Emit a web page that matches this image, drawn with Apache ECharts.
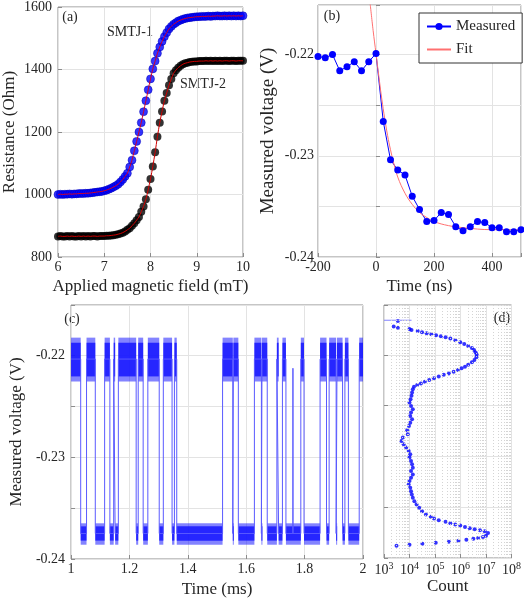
<!DOCTYPE html>
<html><head><meta charset="utf-8">
<script src="https://cdn.jsdelivr.net/npm/echarts@6/dist/echarts.min.js"></script>
<style>html,body{margin:0;padding:0;background:#fff}#c{width:524px;height:600px}</style>
</head><body><div id="c"></div>
<script>
// ---------- Panel (a): resistance vs field ----------
const fieldA = [6.00,6.05,6.10,6.15,6.20,6.25,6.30,6.35,6.40,6.45,6.50,6.55,6.60,6.65,6.70,6.75,6.80,6.85,6.90,6.95,
  7.00,7.05,7.10,7.15,7.20,7.25,7.30,7.35,7.40,7.45,7.50,7.55,7.60,7.65,7.70,7.75,7.80,7.85,7.90,7.95,
  8.00,8.05,8.10,8.15,8.20,8.25,8.30,8.35,8.40,8.45,8.50,8.55,8.60,8.65,8.70,8.75,8.80,8.85,8.90,8.95,
  9.00,9.05,9.10,9.15,9.20,9.25,9.30,9.35,9.40,9.45,9.50,9.55,9.60,9.65,9.70,9.75,9.80,9.85,9.90,9.95,10.00];
const resSMTJ1 = [1000,1001,1000,1001,1001,1002,1001,1002,1002,1003,1003,1003,1004,1004,1005,1006,1007,1008,1009,1010,
  1012,1014,1017,1020,1024,1028,1033,1040,1048,1058,1068,1088,1110,1140,1170,1200,1230,1265,1300,1335,
  1370,1402,1427,1452,1472,1490,1505,1518,1530,1538,1545,1550,1555,1558,1561,1563,1565,1566,1567,1568,
  1569,1569,1570,1570,1570,1571,1570,1571,1571,1572,1571,1571,1572,1571,1572,1571,1572,1571,1572,1571,1572];
const resSMTJ2 = [866,867,866,866,867,866,867,866,866,867,866,867,866,867,866,867,867,866,867,867,
  867,868,868,869,870,871,873,875,878,882,887,892,900,908,918,928,945,962,985,1015,
  1050,1090,1135,1185,1230,1266,1300,1325,1350,1370,1388,1398,1406,1412,1417,1420,1422,1424,1425,1426,
  1426,1427,1427,1427,1428,1427,1428,1427,1428,1427,1428,1427,1428,1428,1427,1428,1428,1427,1428,1428,1428];

// ---------- Panel (b): transient ----------
const timeB = [-200,-175,-150,-125,-100,-75,-50,-25,0,25,50,75,100,125,150,175,200,225,250,275,300,325,350,375,400,425,450,475,500];
const voltB = [-0.2202,-0.2203,-0.2200,-0.2216,-0.2212,-0.2207,-0.2216,-0.2207,-0.2199,-0.2266,-0.2304,-0.2314,-0.2319,-0.2340,-0.2353,
  -0.2365,-0.2364,-0.2356,-0.2358,-0.2370,-0.2374,-0.2370,-0.2365,-0.2366,-0.2371,-0.2371,-0.2375,-0.2375,-0.2373];
const fitT = [-20,-10,0,10,20,30,40,50,60,75,100,125,150,175,200,250,300,400,500];
const fitV = [-0.2150,-0.2176,-0.2199,-0.2222,-0.2244,-0.2263,-0.2280,-0.2294,-0.2306,-0.2321,-0.2337,-0.2348,-0.2356,-0.2361,-0.2365,-0.2369,-0.2371,-0.2373,-0.2373];

// ---------- Panel (c): telegraph signal (switch times in ms, state 1 = high, 0 = low) ----------
const switchC = [1.000,1.033,1.053,1.083,1.115,1.133,1.146,1.151,1.162,1.223,1.230,1.247,1.263,1.302,1.316,1.346,1.354,1.362,
  1.519,1.554,1.556,1.573,1.628,1.652,1.654,1.672,1.705,1.711,1.724,1.736,1.787,1.798,1.853,1.875,1.884,1.908,1.911,1.930,1.938,1.950,1.987,2.000];
const stateC = [1,0,1,0,1,0,1,0,1,0,1,0,1,0,1,0,1,0,1,0,1,0,1,0,1,0,1,0,1,0,1,0,1,0,1,0,1,0,1,0,1];
const levelC = [-0.2375, -0.2204];               // low, high mean level
const bandHigh = [-0.2221, -0.2188], fringeHigh = [-0.2226, -0.2183];
const bandLow  = [-0.2382, -0.2368], fringeLow  = [-0.2386, -0.2365];
const spikeT = [1.760], spikeV = [-0.2213];

// ---------- Panel (d): histogram ----------
const histV = [-0.21668,-0.21722,-0.21735,-0.21745,-0.21755,-0.21767,-0.21777,-0.21787,-0.21797,-0.21807,-0.21817,-0.21827,-0.21840,-0.21857,-0.21876,
  -0.21893,-0.21913,-0.21933,-0.21952,-0.21975,-0.21998,-0.22024,-0.22051,-0.22074,-0.22097,-0.22117,-0.22133,-0.22150,-0.22166,-0.22183,
  -0.22196,-0.22213,-0.22230,-0.22249,-0.22265,-0.22282,-0.22298,-0.22315,-0.22338,-0.22371,-0.22404,-0.22437,-0.22470,-0.22503,-0.22536,
  -0.22569,-0.22602,-0.22635,-0.22668,-0.22700,-0.22743,-0.22782,-0.22814,-0.22848,-0.22880,-0.22913,-0.22947,-0.22979,-0.23012,-0.23045,
  -0.23078,-0.23111,-0.23144,-0.23177,-0.23210,-0.23243,-0.23276,-0.23308,-0.23342,-0.23375,-0.23407,-0.23441,-0.23473,-0.23506,-0.23540,
  -0.23572,-0.23595,-0.23612,-0.23628,-0.23644,-0.23658,-0.23671,-0.23681,-0.23694,-0.23708,-0.23717,-0.23727,-0.23737,-0.23753,-0.23780,
  -0.23793,-0.23803,-0.23810,-0.23820,-0.23830,-0.23840,-0.23850,-0.23859,-0.23869,-0.23879];
const histCount = [3.5e3,2.4e3,3.5e3,1.0e4,1.2e4,2.1e4,3.1e4,4.7e4,7.2e4,1.1e5,1.7e5,2.6e5,4.0e5,6.3e5,9.8e5,
  1.4e6,2.0e6,2.8e6,3.4e6,3.9e6,4.3e6,4.2e6,3.5e6,2.8e6,2.0e6,1.5e6,1.1e6,7.9e5,5.4e5,3.5e5,
  2.2e5,1.4e5,9.1e4,5.9e4,4.0e4,2.8e4,2.0e4,1.5e4,1.35e4,1.26e4,1.2e4,1.1e4,1.0e4,1.15e4,1.35e4,
  1.15e4,1.07e4,1.26e4,1.07e4,9.5e3,8.1e3,8.5e3,5.5e3,4.8e3,5.9e3,7.4e3,9.3e3,1.07e4,1.0e4,1.15e4,
  1.26e4,1.35e4,1.15e4,1.35e4,1.15e4,1.0e4,9.3e3,1.07e4,1.15e4,1.23e4,1.35e4,1.55e4,1.9e4,2.4e4,3.1e4,
  4.4e4,6.8e4,9.1e4,1.4e5,2.6e5,4.0e5,6.2e5,9.8e5,1.5e6,2.3e6,3.6e6,5.8e6,8.9e6,1.2e7,1.0e7,
  7.6e6,4.9e6,3.2e6,1.7e6,8.3e5,3.5e5,1.07e5,3.2e4,1.0e4,3.1e3];
const edgeLineCount = [1.0e3, 1.2e4], edgeLineV = -0.2166;

// ---------- styling ----------
const FONT = 'Liberation Serif';
const TXT = '#262626', FRAME = '#8c8c8c', GRID = '#e3e3e3';

function zip(a, b) { return a.map((v, i) => [v, b[i]]); }
function merge(a, b) {
  const o = Object.assign({}, a);
  for (const k in b) {
    if (b[k] && typeof b[k] === 'object' && !Array.isArray(b[k]) && a[k] && typeof a[k] === 'object') o[k] = merge(a[k], b[k]);
    else o[k] = b[k];
  }
  return o;
}
const baseAxis = {
  type: 'value', nameLocation: 'middle',
  nameTextStyle: { fontFamily: FONT, fontSize: 17, color: TXT },
  axisLine: { show: false },
  axisTick: { show: true, inside: true, length: 4, lineStyle: { color: FRAME } },
  axisLabel: { fontFamily: FONT, fontSize: 14, color: TXT, margin: 3 },
  splitLine: { show: true, lineStyle: { color: GRID, width: 1 } }
};
const ax = o => merge(baseAxis, o);
const vFmt = v => (Math.abs(Math.round(v * 1000)) % 10 === 0) ? v.toFixed(2) : '';

const gridBase = { show: true, borderColor: FRAME, borderWidth: 1, backgroundColor: 'transparent', containLabel: false };

const traceC = [];
for (let i = 0; i < stateC.length; i++) {
  const s = switchC[i], e = switchC[i + 1], lv = levelC[stateC[i]];
  traceC.push([s, lv]);
  for (let k = 0; k < spikeT.length; k++) {
    if (spikeT[k] > s && spikeT[k] < e) traceC.push([spikeT[k], lv], [spikeT[k], spikeV[k]], [spikeT[k], lv]);
  }
  traceC.push([e, lv]);
}
const segC = stateC.map((st, i) => [switchC[i], switchC[i + 1], st]);

const minorD = [];
for (let p = 3; p < 8; p++) for (let m = 2; m <= 9; m++) minorD.push({ xAxis: m * Math.pow(10, p) });

const option = {
  animation: false,
  backgroundColor: '#fff',
  grid: [
    merge(gridBase, { left: 56, top: 5, width: 187, height: 252 }),
    merge(gridBase, { left: 318, top: 5, width: 204, height: 252 }),
    merge(gridBase, { left: 59, top: 305, width: 304, height: 254 }),
    merge(gridBase, { left: 384, top: 305, width: 130, height: 253 })
  ],
  xAxis: [
    ax({ gridIndex: 0, min: 6, max: 10, interval: 1, name: 'Applied magnetic field (mT)', nameGap: 21,
         axisLabel: { formatter: v => String(v) } }),
    ax({ gridIndex: 1, min: -200, max: 500, interval: 200, name: 'Time (ns)', nameGap: 21,
         axisLabel: { formatter: v => (Math.round(v) % 200 === 0 ? String(Math.round(v)) : '') } }),
    ax({ gridIndex: 2, min: 1, max: 2, interval: 0.2, name: 'Time (ms)', nameGap: 22,
         axisLabel: { formatter: v => String(+v.toFixed(1)) } }),
    ax({ gridIndex: 3, type: 'log', logBase: 10, min: 1e3, max: 1e8, name: 'Count', nameGap: 18,
         axisLabel: { formatter: v => '{b|10}{s|' + Math.round(Math.log10(v)) + '}',
           rich: { b: { fontFamily: FONT, fontSize: 14, color: TXT }, s: { fontFamily: FONT, fontSize: 10, color: TXT, padding: [0, 0, 8, 0] } } } })
  ],
  yAxis: [
    ax({ gridIndex: 0, min: 800, max: 1600, interval: 200, name: 'Resistance (Ohm)', nameGap: 40,
         axisLabel: { margin: 6, formatter: v => String(v) } }),
    ax({ gridIndex: 1, min: -0.24, max: -0.2151, interval: 0.005, name: 'Measured voltage (V)', nameGap: 40,
         nameTextStyle: { fontSize: 19 }, axisLabel: { margin: 4, formatter: vFmt } }),
    ax({ gridIndex: 2, min: -0.24, max: -0.2151, interval: 0.005, name: 'Measured voltage (V)', nameGap: 43,
         axisLabel: { margin: 6, formatter: vFmt } }),
    ax({ gridIndex: 3, min: -0.24, max: -0.2151, interval: 0.005, axisLabel: { show: false } })
  ],
  legend: {
    data: ['Measured', { name: 'Fit', itemStyle: { opacity: 0 } }], orient: 'vertical', left: 419, top: 13,
    padding: [6, 7, 6, 7], itemGap: 8, itemWidth: 24, itemHeight: 9,
    backgroundColor: '#fff', borderColor: '#333', borderWidth: 1, borderRadius: 0,
    textStyle: { fontFamily: FONT, fontSize: 15, color: TXT }
  },
  graphic: [
    { type: 'text', x: 70, y: 17, style: { text: '(a)', font: '14px "Liberation Serif"', fill: TXT, align: 'center', verticalAlign: 'middle' } },
    { type: 'text', x: 332, y: 16, style: { text: '(b)', font: '14px "Liberation Serif"', fill: TXT, align: 'center', verticalAlign: 'middle' } },
    { type: 'text', x: 72, y: 319, style: { text: '(c)', font: '14px "Liberation Serif"', fill: TXT, align: 'center', verticalAlign: 'middle' } },
    { type: 'text', x: 502, y: 318, style: { text: '(d)', font: '14px "Liberation Serif"', fill: TXT, align: 'center', verticalAlign: 'middle' } },
    { type: 'text', x: 130, y: 32, style: { text: 'SMTJ-1', font: '14px "Liberation Serif"', fill: TXT, align: 'center', verticalAlign: 'middle' } },
    { type: 'text', x: 203, y: 84, style: { text: 'SMTJ-2', font: '14px "Liberation Serif"', fill: TXT, align: 'center', verticalAlign: 'middle' } }
  ],
  series: [
    { name: 'SMTJ-1', type: 'scatter', xAxisIndex: 0, yAxisIndex: 0, data: zip(fieldA, resSMTJ1), symbolSize: 8,
      itemStyle: { color: '#0000ff', borderColor: '#0000b0', borderWidth: 0.6 } },
    { name: 'SMTJ-2', type: 'scatter', xAxisIndex: 0, yAxisIndex: 0, data: zip(fieldA, resSMTJ2), symbolSize: 8,
      itemStyle: { color: '#000000' } },
    { name: 'fit1', type: 'line', xAxisIndex: 0, yAxisIndex: 0, data: zip(fieldA, resSMTJ1), smooth: 0.3, showSymbol: false, symbol: 'none',
      lineStyle: { color: '#d0002a', width: 1 }, z: 4 },
    { name: 'fit2', type: 'line', xAxisIndex: 0, yAxisIndex: 0, data: zip(fieldA, resSMTJ2), smooth: 0.3, showSymbol: false, symbol: 'none',
      lineStyle: { color: '#d00000', width: 1 }, z: 4 },

    { name: 'Measured', type: 'line', xAxisIndex: 1, yAxisIndex: 1, data: zip(timeB, voltB), symbol: 'circle', symbolSize: 7,
      itemStyle: { color: '#0000ff' }, lineStyle: { color: '#0000ff', width: 1 } },
    { name: 'Fit', type: 'line', xAxisIndex: 1, yAxisIndex: 1, data: zip(fitT, fitV), smooth: 0.4, symbol: 'none', showSymbol: false,
      itemStyle: { color: '#ff7070' }, lineStyle: { color: '#ff7070', width: 1 }, clip: true },

    { name: 'trace', type: 'line', xAxisIndex: 2, yAxisIndex: 2, data: traceC, symbol: 'none', showSymbol: false,
      lineStyle: { color: '#5a5aff', width: 1 } },
    { name: 'bands', type: 'custom', xAxisIndex: 2, yAxisIndex: 2, data: segC, encode: { x: [0, 1] },
      renderItem: function (params, api) {
        const s = api.value(0), e = api.value(1), st = api.value(2);
        const band = st === 1 ? bandHigh : bandLow, fr = st === 1 ? fringeHigh : fringeLow;
        const a1 = api.coord([s, band[1]]), a2 = api.coord([e, band[0]]);
        const b1 = api.coord([s, fr[1]]), b2 = api.coord([e, fr[0]]);
        return { type: 'group', children: [
          { type: 'rect', shape: { x: b1[0], y: b1[1], width: Math.max(1, b2[0] - b1[0]), height: b2[1] - b1[1] }, style: { fill: 'rgba(30,30,255,0.55)' } },
          { type: 'rect', shape: { x: a1[0], y: a1[1], width: Math.max(1, a2[0] - a1[0]), height: a2[1] - a1[1] }, style: { fill: 'rgba(25,25,255,0.88)' } }
        ] };
      } },

    { name: 'hist', type: 'scatter', xAxisIndex: 3, yAxisIndex: 3, data: zip(histCount, histV), symbolSize: 4,
      itemStyle: { color: '#0000ff' },
      markLine: { silent: true, symbol: 'none', label: { show: false }, animation: false,
        lineStyle: { color: '#d4d4d4', type: [1, 2], width: 1 }, data: minorD } },
    { name: 'edge', type: 'line', xAxisIndex: 3, yAxisIndex: 3, data: edgeLineCount.map(c => [c, edgeLineV]), symbol: 'none',
      lineStyle: { color: '#8080ff', width: 1 } }
  ]
};
const chart = echarts.init(document.getElementById('c'));
chart.setOption(option);
</script></body></html>
